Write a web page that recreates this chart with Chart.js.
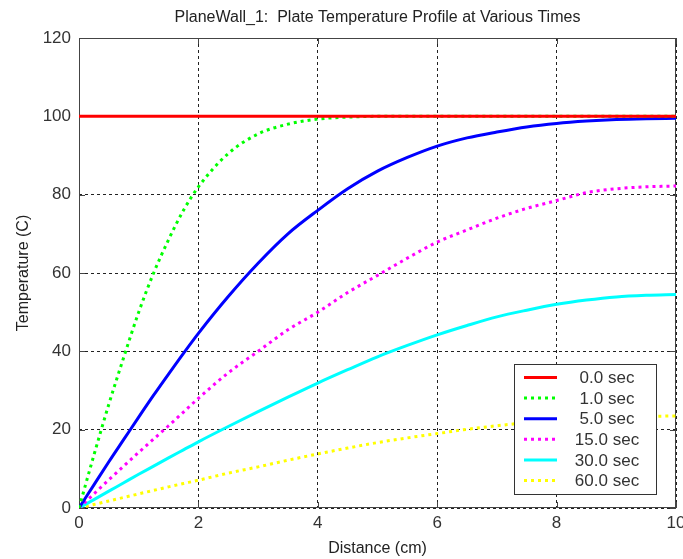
<!DOCTYPE html>
<html>
<head>
<meta charset="utf-8">
<script src="https://cdn.jsdelivr.net/npm/chart.js@4.4.1/dist/chart.umd.min.js"></script>
<style>
html, body { margin: 0; padding: 0; background: #fff; }
#wrap { width: 683px; height: 559px; position: relative; }
</style>
</head>
<body>
<div id="wrap"><canvas id="tempChart"></canvas></div>
<script>
// distance along the plate (cm)
const distance = [0, 0.25, 0.5, 0.75, 1, 1.25, 1.5, 1.75, 2, 2.5, 3, 3.5, 4, 4.5, 5, 5.5, 6, 6.5, 7, 7.5, 8, 8.5, 9, 9.5, 10];

// temperatures (C)
const temp0s  = [100, 100, 100, 100, 100, 100, 100, 100, 100, 100, 100, 100, 100, 100, 100, 100, 100, 100, 100, 100, 100, 100, 100, 100, 100];
const temp1s  = [0, 13.5, 26.5, 38.5, 50, 60, 68.5, 76, 82, 90.5, 95.5, 98, 99.3, 99.8, 100, 100, 100, 100, 100, 100, 100, 100, 100, 100, 100];
const temp5s  = [0, 5.9, 11.8, 17.5, 23.2, 28.8, 34.2, 39.5, 44.6, 54, 62.5, 70, 76, 81.5, 86, 89.5, 92.4, 94.5, 96, 97.3, 98.2, 98.8, 99.2, 99.4, 99.5];
const temp15s = [0, 3.6, 7.2, 10.7, 14.2, 17.6, 21, 24.5, 28, 34.5, 40, 45.5, 50, 55, 59.4, 63.8, 67.9, 71, 74, 76.5, 78.5, 80.5, 81.5, 82, 82.2];
const temp30s = [0, 2.15, 4.3, 6.45, 8.6, 10.7, 12.8, 14.85, 16.9, 20.8, 24.6, 28.3, 31.9, 35.3, 38.6, 41.5, 44.2, 46.6, 48.8, 50.5, 52, 53.1, 53.9, 54.3, 54.5];
const temp60s = [0, 0.9, 1.8, 2.7, 3.6, 4.5, 5.4, 6.25, 7.1, 8.9, 10.5, 12.2, 13.8, 15.3, 16.7, 17.9, 19, 20.1, 21, 21.8, 22.4, 22.9, 23.2, 23.4, 23.5];

const seriesLabels = ['0.0 sec', '1.0 sec', '5.0 sec', '15.0 sec', '30.0 sec', '60.0 sec'];
const seriesColors = ['#ff0000', '#00ff00', '#0000ff', '#ff00ff', '#00ffff', '#ffff00'];
const seriesDotted = [false, true, false, true, false, true];
const seriesValues = [temp0s, temp1s, temp5s, temp15s, temp30s, temp60s];

const FONT = "'Liberation Sans', Arial, sans-serif";

const datasets = seriesValues.map((vals, i) => ({
    label: seriesLabels[i],
    data: distance.map((d, j) => ({ x: d, y: vals[j] })),
    borderColor: seriesColors[i],
    backgroundColor: seriesColors[i],
    borderWidth: 3,
    borderDash: seriesDotted[i] ? [3, 4] : [],
    pointRadius: 0,
    cubicInterpolationMode: 'monotone',
    fill: false
}));

// frame around plot + small inward tick marks
const framePlugin = {
    id: 'frame',
    beforeDatasetsDraw(chart) {
        const { ctx, chartArea: a, scales } = chart;
        ctx.save();
        ctx.strokeStyle = '#444';
        ctx.lineWidth = 1;
        ctx.strokeRect(a.left + 0.5, a.top + 0.5, a.right - a.left - 1, a.bottom - a.top - 1);
        ctx.beginPath();
        scales.x.ticks.forEach(t => {
            const px = Math.round(scales.x.getPixelForValue(t.value)) + 0.5;
            ctx.moveTo(px, a.bottom); ctx.lineTo(px, a.bottom - 6);
            ctx.moveTo(px, a.top); ctx.lineTo(px, a.top + 6);
        });
        scales.y.ticks.forEach(t => {
            const py = Math.round(scales.y.getPixelForValue(t.value)) + 0.5;
            ctx.moveTo(a.left, py); ctx.lineTo(a.left + 6, py);
            ctx.moveTo(a.right, py); ctx.lineTo(a.right - 6, py);
        });
        ctx.stroke();
        ctx.restore();
    }
};

// title centred over the plot area
const titlePlugin = {
    id: 'plotTitle',
    afterDraw(chart) {
        const { ctx, chartArea: a } = chart;
        ctx.save();
        ctx.font = '16px ' + FONT;
        ctx.fillStyle = '#222';
        ctx.textAlign = 'center';
        ctx.textBaseline = 'middle';
        ctx.fillText('PlaneWall_1:  Plate Temperature Profile at Various Times', (a.left + a.right) / 2, 18);
        ctx.restore();
    }
};

// boxed legend in the lower right of the plot
const boxLegend = {
    id: 'boxLegend',
    afterDraw(chart) {
        const { ctx, chartArea: a } = chart;
        const sets = chart.data.datasets;
        const w = 142, rowH = 20.6;
        const h = 130;
        const x0 = a.right - 20 - w, y0 = a.bottom - 14 - h;
        ctx.save();
        ctx.fillStyle = '#fff';
        ctx.fillRect(x0, y0, w, h);
        ctx.strokeStyle = '#333';
        ctx.lineWidth = 1;
        ctx.strokeRect(Math.round(x0) + 0.5, Math.round(y0) + 0.5, w, h);
        ctx.font = '17px ' + FONT;
        ctx.textAlign = 'center';
        ctx.textBaseline = 'middle';
        sets.forEach((ds, i) => {
            const y = y0 + 13.5 + i * rowH;
            ctx.beginPath();
            ctx.strokeStyle = ds.borderColor;
            ctx.lineWidth = 3;
            ctx.setLineDash(ds.borderDash);
            ctx.moveTo(x0 + 10, y);
            ctx.lineTo(x0 + 43, y);
            ctx.stroke();
            ctx.setLineDash([]);
            ctx.fillStyle = '#333';
            ctx.fillText(ds.label, x0 + 93, y + 1);
        });
        ctx.restore();
    }
};

new Chart(document.getElementById('tempChart'), {
    type: 'line',
    data: { datasets: datasets },
    plugins: [framePlugin, titlePlugin, boxLegend],
    options: {
        responsive: true,
        maintainAspectRatio: false,
        animation: false,
        layout: { padding: { top: 38, right: 7, bottom: 0, left: 0 } },
        scales: {
            x: {
                type: 'linear',
                min: 0,
                max: 10,
                afterFit(scale) { scale.height = 51; scale.paddingRight = 0; scale.paddingLeft = 0; },
                grid: { color: '#222', lineWidth: 1, drawTicks: false },
                border: { display: false, dash: [3, 3] },
                ticks: { stepSize: 2, padding: 5, color: '#333', font: { family: FONT, size: 17 } },
                title: { display: true, text: 'Distance (cm)', color: '#222', font: { family: FONT, size: 16 }, padding: { top: 0, bottom: 1 } }
            },
            y: {
                min: 0,
                max: 120,
                afterFit(scale) { scale.width = 79; scale.paddingTop = 0; scale.paddingBottom = 0; },
                grid: { color: '#222', lineWidth: 1, drawTicks: false },
                border: { display: false, dash: [3, 3] },
                ticks: { stepSize: 20, padding: 8, color: '#333', font: { family: FONT, size: 17 } },
                title: { display: true, text: 'Temperature (C)', color: '#222', font: { family: FONT, size: 16 }, padding: { top: 14, bottom: 0 } }
            }
        },
        plugins: {
            legend: { display: false },
            tooltip: { enabled: false }
        }
    }
});
</script>
</body>
</html>
